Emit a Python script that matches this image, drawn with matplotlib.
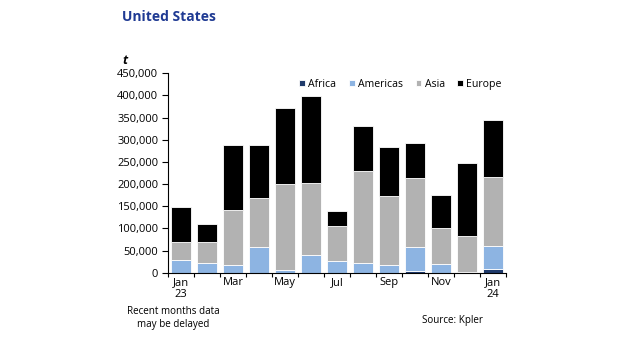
import matplotlib
matplotlib.use("Agg")
import matplotlib.pyplot as plt
import numpy as np

months = ["Jan\n23", "Feb", "Mar", "Apr", "May", "Jun", "Jul", "Aug", "Sep", "Oct", "Nov", "Dec", "Jan\n24"]
africa = [0, 0, 0, 0, 0, 0, 0, 0, 0, 4500, 0, 0, 7500]
americas_total = [28600, 21000, 16500, 58000, 6800, 40600, 25600, 21000, 16500, 58000, 19600, 1000, 60200]
asia_top = [69200, 69200, 140700, 169300, 200900, 203200, 106100, 228800, 173100, 213000, 100800, 82800, 215200]
total = [147500, 109100, 288200, 289000, 371000, 398000, 140000, 330300, 284400, 292700, 174600, 246800, 343900]

americas = [a - f for a, f in zip(americas_total, africa)]
asia = [s - a for s, a in zip(asia_top, americas_total)]
europe = [t - s for t, s in zip(total, asia_top)]

plt.rcParams['font.family'] = ['Open Sans', 'DejaVu Sans']

fig = plt.figure(figsize=(6.26, 3.4), dpi=100)
ax = fig.add_axes([168/626, 1 - 272.7/340, (506-168)/626, (272.7-73.3)/340])

x = np.arange(len(months)) + 0.5
w = 0.78
cols = {"Africa": "#1f3a6b", "Americas": "#8db4e2", "Asia": "#b2b2b2", "Europe": "#000000"}
bottom = np.zeros(len(months))
for name, vals in [("Africa", africa), ("Americas", americas), ("Asia", asia), ("Europe", europe)]:
    vals = np.array(vals, dtype=float)
    ax.bar(x, vals, w, bottom=bottom, color=cols[name], label=name, edgecolor='white', linewidth=0.6)
    bottom += vals

ax.set_xlim(0, len(months))
ax.set_ylim(0, 450000)
ax.set_yticks(np.arange(0, 450001, 50000))
ax.set_yticklabels([f"{v:,}" for v in range(0, 450001, 50000)], fontsize=8)
ax.set_xticks(np.arange(0, len(months) + 1))
ax.set_xticklabels([])
ax.set_xticks(x[::2], minor=True)
ax.set_xticklabels([months[i] for i in range(0, len(months), 2)], minor=True, fontsize=8)
ax.tick_params(axis='x', which='minor', length=0, pad=3)
ax.tick_params(axis='x', which='major', length=3, direction='out')
ax.tick_params(axis='y', length=4, direction='out', pad=3)
for s in ['top', 'right']:
    ax.spines[s].set_visible(False)

leg = ax.legend(loc='upper right', ncol=4, frameon=False, fontsize=7.6, handlelength=0.55, handleheight=0.55,
                handletextpad=0.3, columnspacing=1.2, bbox_to_anchor=(1.0, 0.995), borderaxespad=0)

fig.text(122/626, 1 - 17/340, "United States", fontsize=10, fontweight='bold', color='#1f3a93', va='center', ha='left')
fig.text(122/626, 1 - 60/340, "t", fontsize=9, fontweight='bold', style='italic', va='center', ha='left')
fig.text(173/626, 1 - 318/340, "Recent months data\nmay be delayed", fontsize=7.1, ha='center', va='center', linespacing=1.25)
fig.text(483/626, 1 - 321/340, "Source: Kpler", fontsize=7.1, ha='right', va='center')

fig.savefig("out.png", dpi=100)
